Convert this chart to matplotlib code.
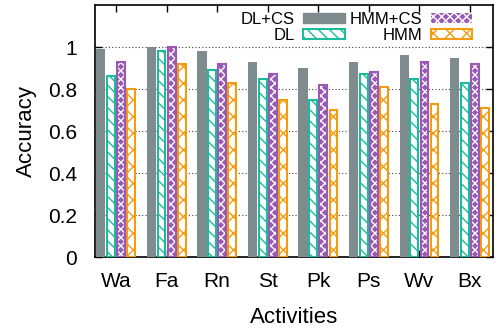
import numpy as np
import matplotlib.pyplot as plt
from matplotlib.patches import Patch

plt.rcParams['font.family'] = ['Liberation Sans', 'DejaVu Sans']
plt.rcParams['hatch.linewidth'] = 1.0

activities = ["Wa", "Fa", "Rn", "St", "Pk", "Ps", "Wv", "Bx"]
dl_cs = [0.99, 1.00, 0.98, 0.93, 0.90, 0.93, 0.96, 0.95]
dl = [0.86, 0.98, 0.89, 0.85, 0.75, 0.87, 0.85, 0.83]
hmm_cs = [0.93, 1.00, 0.92, 0.87, 0.82, 0.88, 0.93, 0.92]
hmm = [0.80, 0.92, 0.83, 0.75, 0.70, 0.81, 0.73, 0.71]

gray = '#7f8c8d'
teal = '#1abc9c'
purple = '#9b59b6'
orange = '#f39c12'

fig = plt.figure(figsize=(4.96, 3.32), dpi=100)
ax = fig.add_axes([0.1915, 0.2259, 0.8024, 0.759])

x = np.arange(len(activities))
w = 0.2
hw = 0.155  # width of outlined bars (edge line adds the rest)

# DL+CS: solid gray
ax.bar(x - 1.5 * w, dl_cs, 0.185, color=gray, zorder=3)
# DL: teal diagonal lines on white
ax.bar(x - 0.5 * w, dl, hw, facecolor='white', edgecolor=teal,
       hatch='\\\\\\', linewidth=1.5, zorder=3)
# HMM+CS: purple with white checker
ax.bar(x + 0.5 * w, hmm_cs, hw, facecolor=purple, edgecolor='white',
       hatch='xxxx', linewidth=0, zorder=3)
ax.bar(x + 0.5 * w, hmm_cs, hw, facecolor='none', edgecolor=purple,
       linewidth=1.5, zorder=4)
# HMM: orange crosshatch on white
ax.bar(x + 1.5 * w, hmm, hw, facecolor='white', edgecolor=orange,
       hatch='xx', linewidth=1.5, zorder=3)

ax.set_xlim(-0.415, 7.455)
ax.set_ylim(0, 1.2)
ax.set_yticks([0, 0.2, 0.4, 0.6, 0.8, 1])
ax.set_yticklabels(['0', '0.2', '0.4', '0.6', '0.8', '1'])
ax.set_xticks(x)
ax.set_xticklabels(activities)
ax.tick_params(direction='in', top=True, right=True, labelsize=15,
               length=5, width=1)
ax.tick_params(axis='x', pad=11)
ax.tick_params(axis='y', pad=13)
for s in ax.spines.values():
    s.set_linewidth(1.2)
ax.yaxis.grid(True, linestyle=(0, (1, 2)), color='#444444', linewidth=0.8,
              zorder=0)
ax.set_axisbelow(True)
ax.set_xlabel("Activities", fontsize=16, labelpad=11)
ax.set_ylabel("Accuracy", fontsize=16, labelpad=8)

handles = [
    Patch(facecolor=gray, edgecolor=gray),
    Patch(facecolor='white', edgecolor=teal, hatch='\\\\\\', linewidth=1.5),
    Patch(facecolor=purple, edgecolor='white', hatch='xxxx', linewidth=0),
    Patch(facecolor='white', edgecolor=orange, hatch='xx', linewidth=1.5),
]
leg = ax.legend(handles, ["DL+CS", "DL", "HMM+CS", "HMM"], ncol=2,
                loc='upper right', bbox_to_anchor=(0.965, 1.0),
                markerfirst=False, frameon=False,
                fontsize=12, handlelength=2.5, handleheight=0.55,
                columnspacing=0.3, labelspacing=0.1, handletextpad=0.5,
                borderaxespad=0.2, borderpad=0.2)

fig.savefig("out.png", dpi=100)
